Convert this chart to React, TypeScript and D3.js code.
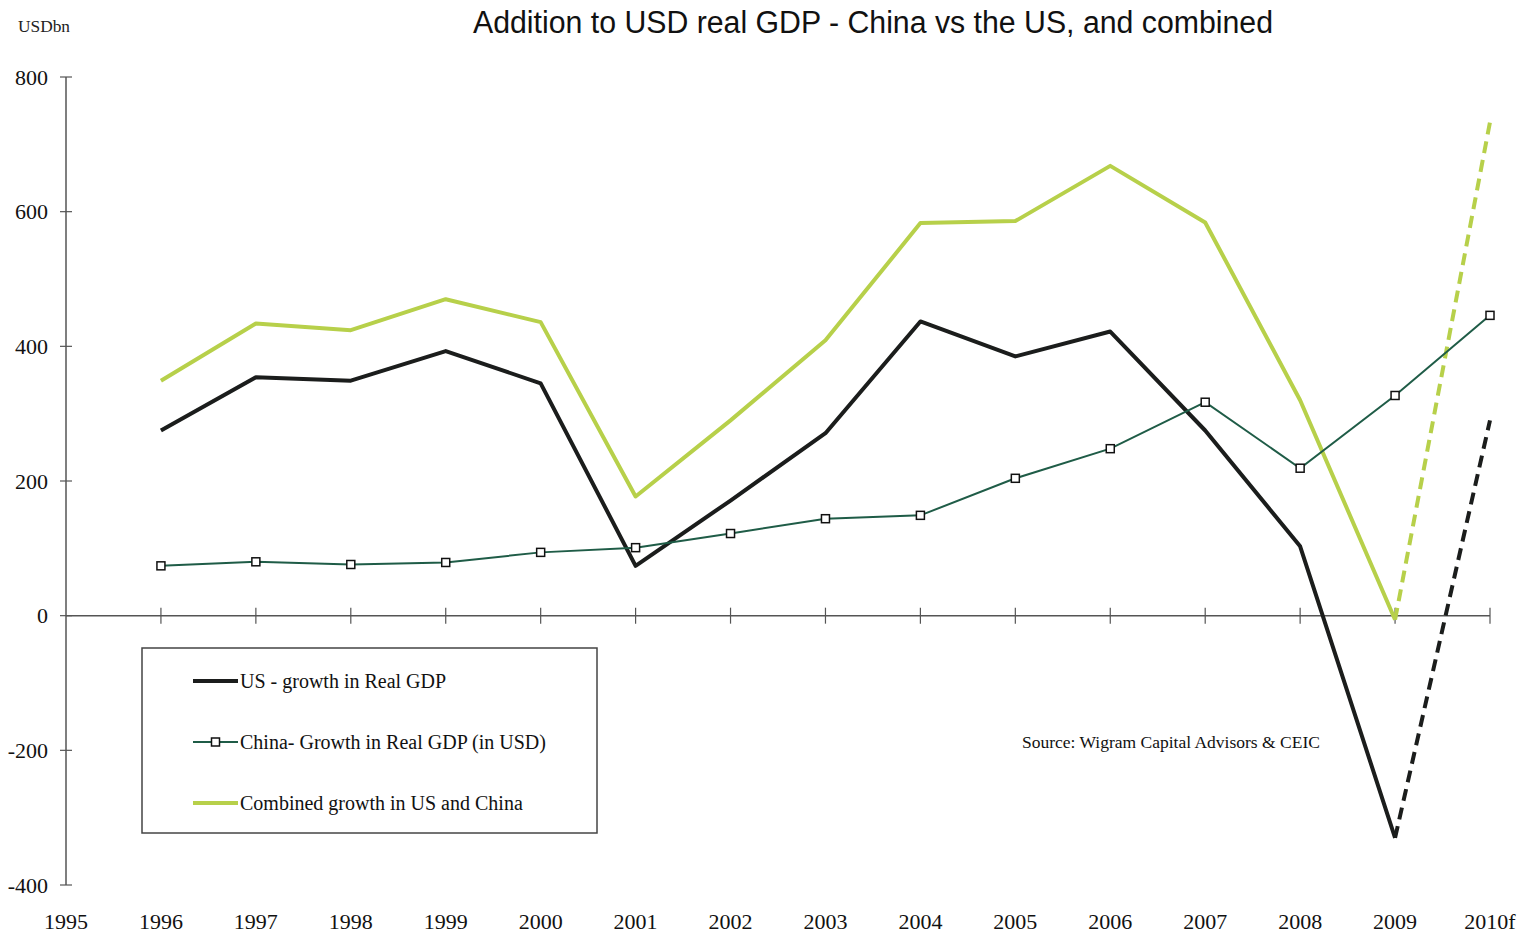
import React from "react";
import * as d3 from "d3";

const categories = ["1995","1996","1997","1998","1999","2000","2001","2002","2003","2004","2005","2006","2007","2008","2009","2010f"];
const years = ["1996","1997","1998","1999","2000","2001","2002","2003","2004","2005","2006","2007","2008","2009","2010f"];
const usGrowth = [275, 354, 349, 393, 345, 74, 171, 271, 437, 385, 422, 275, 103, -330, 290];
const chinaGrowth = [74, 80, 76, 79, 94, 101, 122, 144, 149, 204, 248, 317, 219, 327, 446];
const combinedGrowth = [349, 434, 424, 470, 436, 177, 290, 409, 583, 586, 668, 584, 320, -6, 733];
const yTicks = [-400, -200, 0, 200, 400, 600, 800];

const W = 1522;
const H = 936;
const serif = "'Liberation Serif', 'Times New Roman', serif";
const sans = "'Liberation Sans', Arial, sans-serif";

export default function App() {
  const x = d3.scalePoint<string>().domain(categories).range([66, 1490]);
  const y = d3.scaleLinear().domain([-400, 800]).range([885, 77]);
  const line = d3.line<[string, number]>().x(d => x(d[0]) as number).y(d => y(d[1]));

  const solidPart = (vals: number[]) => years.slice(0, 14).map((yr, i) => [yr, vals[i]] as [string, number]);
  const dashPart = (vals: number[]) => years.slice(13).map((yr, i) => [yr, vals[i + 13]] as [string, number]);
  const all = (vals: number[]) => years.map((yr, i) => [yr, vals[i]] as [string, number]);

  const usColor = "#1b1d1c";
  const chinaColor = "#1f5c47";
  const combColor = "#b7d04a";
  const axisColor = "#555";

  return (
    <div style={{ position: "absolute", left: 0, top: 0 }}>
      <svg width={W} height={H} style={{ display: "block", background: "#fff" }}>
        <text x={473} y={33} textLength={800} lengthAdjust="spacingAndGlyphs" fontFamily={sans} fontSize={31} fill="#111">
          Addition to USD real GDP - China vs the US, and combined
        </text>
        <text x={18} y={32} fontFamily={serif} fontSize={17} fill="#222" textLength={52} lengthAdjust="spacingAndGlyphs">USDbn</text>

        {/* Y axis */}
        <line x1={66} x2={66} y1={y(800)} y2={y(-400)} stroke={axisColor} strokeWidth={1.5} />
        {yTicks.map(t => (
          <g key={t}>
            <line x1={60} x2={72} y1={y(t)} y2={y(t)} stroke={axisColor} strokeWidth={1.2} />
            <text x={48} y={y(t)} dy="0.35em" textAnchor="end" fontFamily={serif} fontSize={22} fill="#111">{t}</text>
          </g>
        ))}

        {/* X axis at zero */}
        <line x1={66} x2={1490} y1={y(0)} y2={y(0)} stroke={axisColor} strokeWidth={1.5} />
        {categories.map(c => (
          <g key={c}>
            {c !== "1995" && (
              <line x1={x(c)} x2={x(c)} y1={y(0) - 8} y2={y(0) + 8} stroke={axisColor} strokeWidth={1.2} />
            )}
            <text x={x(c)} y={921} dy="0.35em" textAnchor="middle" fontFamily={serif} fontSize={22} fill="#111">{c}</text>
          </g>
        ))}

        {/* Combined */}
        <path d={line(solidPart(combinedGrowth)) || ""} fill="none" stroke={combColor} strokeWidth={4} strokeLinejoin="round" />
        <path d={line(dashPart(combinedGrowth)) || ""} fill="none" stroke={combColor} strokeWidth={4} strokeDasharray="12 7" />

        {/* US */}
        <path d={line(solidPart(usGrowth)) || ""} fill="none" stroke={usColor} strokeWidth={4} strokeLinejoin="round" />
        <path d={line(dashPart(usGrowth)) || ""} fill="none" stroke={usColor} strokeWidth={4} strokeDasharray="12 7" />

        {/* China */}
        <path d={line(all(chinaGrowth)) || ""} fill="none" stroke={chinaColor} strokeWidth={2} />
        {years.map((yr, i) => (
          <rect key={yr} x={(x(yr) as number) - 4} y={y(chinaGrowth[i]) - 4} width={8} height={8}
            fill="#fff" stroke="#111" strokeWidth={1.5} />
        ))}

        {/* Legend */}
        <rect x={142} y={648} width={455} height={185} fill="#fff" stroke="#444" strokeWidth={1.5} />
        <line x1={193} x2={238} y1={681} y2={681} stroke={usColor} strokeWidth={4} />
        <text x={240} y={681} dy="0.35em" fontFamily={serif} fontSize={20} fill="#111">US - growth in Real GDP</text>
        <line x1={193} x2={238} y1={742} y2={742} stroke={chinaColor} strokeWidth={2} />
        <rect x={211.5} y={738} width={8} height={8} fill="#fff" stroke="#111" strokeWidth={1.5} />
        <text x={240} y={742} dy="0.35em" fontFamily={serif} fontSize={20} fill="#111">China- Growth in Real GDP (in USD)</text>
        <line x1={193} x2={238} y1={803} y2={803} stroke={combColor} strokeWidth={4} />
        <text x={240} y={803} dy="0.35em" fontFamily={serif} fontSize={20} fill="#111">Combined growth in US and China</text>

        <text x={1022} y={742} dy="0.35em" fontFamily={serif} fontSize={17.5} fill="#111">Source: Wigram Capital Advisors &amp; CEIC</text>
      </svg>
    </div>
  );
}
